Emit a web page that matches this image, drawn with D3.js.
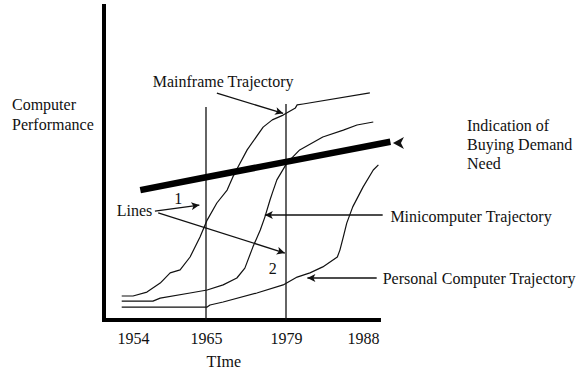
<!DOCTYPE html>
<html>
<head>
<meta charset="utf-8">
<script src="https://cdn.jsdelivr.net/npm/d3@7"></script>
<style>
    body { margin: 0; background: #fff; }
    text { font-family: "Liberation Serif", "Times New Roman", serif; font-size: 16px; fill: #111; }
    .curve { fill: none; stroke: #111; stroke-width: 1.2; stroke-linejoin: round; }
    .guide { stroke: #111; stroke-width: 1.3; }
    .pointer { stroke: #111; stroke-width: 1.3; }
    .demand { fill: none; stroke: #000; stroke-width: 6.5; }
    .axis_line { stroke: #000; stroke-width: 4; }
</style>
</head>
<body>
<div id="chart" style="width:586px;height:374px"></div>
<script>
// tick years along the time axis (hand-drawn, so spacing is uneven)
const tick_years = [1954, 1965, 1979, 1988]

// trajectories: [year, performance]
const mainframe = [
    [1952.3, 8.0], [1954.0, 8.0], [1956.1, 9.3], [1958.1, 12.3], [1959.6, 15.7],
    [1961.1, 16.7], [1962.6, 21.0], [1964.1, 27.7], [1965.2, 33.3], [1966.9, 39.0],
    [1968.7, 43.3], [1969.7, 47.7], [1970.6, 51.0], [1972.2, 56.7], [1975.0, 64.3],
    [1976.6, 66.7], [1978.5, 68.3], [1980.1, 70.7], [1980.3, 71.7], [1981.0, 72.0],
    [1988.8, 75.7]
]
const minicomputer = [
    [1952.3, 6.3], [1957.0, 6.3], [1958.1, 7.3], [1962.6, 9.0], [1965.2, 10.0],
    [1968.0, 11.7], [1970.4, 14.0], [1971.8, 17.3], [1972.2, 19.3], [1973.2, 24.3],
    [1974.5, 30.0], [1975.3, 34.3], [1976.2, 40.0], [1976.6, 42.3], [1977.4, 46.7],
    [1979.1, 52.3], [1980.6, 56.7], [1983.3, 61.0], [1985.7, 63.3], [1987.3, 65.0],
    [1989.2, 66.0]
]
const personal = [
    [1952.3, 4.3], [1965.2, 4.3], [1965.7, 5.0], [1968.0, 6.0], [1973.9, 9.0],
    [1978.5, 11.7], [1980.3, 14.3], [1981.8, 15.7], [1983.3, 17.7], [1985.0, 21.0],
    [1985.3, 23.3], [1985.7, 27.7], [1986.1, 32.3], [1986.8, 37.7], [1988.0, 44.3],
    [1989.2, 50.0], [1989.8, 51.7]
]
// indication of buying demand need
const demand = [[1955.1, 43.3], [1965, 47.6], [1979, 52.7], [1991.2, 59.4]]

// vertical marker lines: [year, top performance]
const guides = [[1965, 71], [1979, 72]]

// arrows: from [year, perf] to [year, perf]
const arrows = [
    {from: [1966.9, 75.6], to: [1978.5, 68.9]},
    {from: [1957.3, 36.3], to: [1964.0, 38.3]},
    {from: [1957.8, 35.7], to: [1978.8, 22.3]},
    {from: [1990.3, 35.0], to: [1975.3, 35.0]},
    {from: [1989.6, 14.0], to: [1981.5, 14.0]}
]

// labels placed at [year, perf]
const labels = [
    {text: "Mainframe Trajectory", at: [1968.0, 79.7], anchor: "middle"},
    {text: "Lines", at: [1956.9, 36.7], anchor: "end"},
    {text: "1", at: [1960.8, 40.7], anchor: "middle"},
    {text: "2", at: [1976.7, 17.3], anchor: "middle"},
    {text: "Minicomputer Trajectory", at: [1991.2, 34.4], anchor: "start"},
    {text: "Personal Computer Trajectory", at: [1990.3, 13.8], anchor: "start"}
]
const demand_label = ["Indication of", "Buying Demand", "Need"]
const y_title = ["Computer", "Performance"]

function draw_chart(target) {
    const svg = d3.select(target)
        .append("svg")
        .attr("width", 586)
        .attr("height", 374);

    // piecewise time scale, ticks sit where the drawing puts them
    let x = d3.scaleLinear()
        .domain(tick_years)
        .range([133, 206, 286, 363]);

    let y = d3.scaleLinear()
        .domain([0, 100])
        .range([320, 20]);

    const defs = svg.append("defs");
    defs.append("marker")
        .attr("id", "head")
        .attr("viewBox", "0 0 10 10")
        .attr("refX", 10)
        .attr("refY", 5)
        .attr("markerWidth", 11)
        .attr("markerHeight", 8)
        .attr("markerUnits", "userSpaceOnUse")
        .attr("orient", "auto")
        .append("path")
        .attr("d", "M0,0 L10,5 L0,10 L2.5,5 Z")
        .attr("fill", "#111");

    // axes
    svg.append("line")
        .attr("class", "axis_line")
        .attr("x1", 104).attr("x2", 104)
        .attr("y1", y(105.3)).attr("y2", y(-0.7));
    svg.append("line")
        .attr("class", "axis_line")
        .attr("x1", 102).attr("x2", x(1990.1))
        .attr("y1", y(0)).attr("y2", y(0));

    svg.append("g")
        .attr("transform", "translate(0," + y(0) + ")")
        .call(d3.axisBottom(x)
            .tickValues(tick_years)
            .tickSize(0)
            .tickPadding(13)
            .tickFormat(d3.format("d")))
        .call(g => g.select(".domain").remove())
        .selectAll("text")
        .attr("font-family", null)
        .attr("font-size", null)
        .style("font-size", "16px");

    svg.append("text")
        .attr("x", x(1968.1))
        .attr("y", 367)
        .attr("text-anchor", "middle")
        .text("TIme");

    svg.append("g")
        .selectAll("text")
        .data(y_title)
        .join("text")
        .attr("x", 12)
        .attr("y", (d, i) => 110 + i * 20)
        .text(d => d);

    // guides
    svg.append("g")
        .selectAll("line")
        .data(guides)
        .join("line")
        .attr("class", "guide")
        .attr("x1", d => x(d[0])).attr("x2", d => x(d[0]))
        .attr("y1", y(0)).attr("y2", d => y(d[1]));

    const line = d3.line()
        .x(d => x(d[0]))
        .y(d => y(d[1]));

    [mainframe, minicomputer, personal].forEach(function (s) {
        svg.append("path")
            .datum(s)
            .attr("class", "curve")
            .attr("d", line);
    });

    svg.append("path")
        .datum(demand)
        .attr("class", "demand")
        .attr("d", line);

    // standalone arrowhead pointing at the end of the demand line
    const tip = [1991.5, 59.0];
    svg.append("path")
        .attr("transform", "translate(" + x(tip[0]) + "," + y(tip[1]) + ")")
        .attr("d", "M0,0 L11,-6 L8,0 L11,6 Z")
        .attr("fill", "#111");

    svg.append("g")
        .selectAll("line")
        .data(arrows)
        .join("line")
        .attr("class", "pointer")
        .attr("x1", d => x(d.from[0])).attr("y1", d => y(d.from[1]))
        .attr("x2", d => x(d.to[0])).attr("y2", d => y(d.to[1]))
        .attr("marker-end", "url(#head)");

    svg.append("g")
        .selectAll("text")
        .data(labels)
        .join("text")
        .attr("x", d => x(d.at[0]))
        .attr("y", d => y(d.at[1]))
        .attr("dy", "0.35em")
        .attr("text-anchor", d => d.anchor)
        .text(d => d.text);

    svg.append("g")
        .selectAll("text")
        .data(demand_label)
        .join("text")
        .attr("x", 467)
        .attr("y", (d, i) => 131 + i * 19)
        .text(d => d);
}

draw_chart("#chart");
</script>
</body>
</html>
